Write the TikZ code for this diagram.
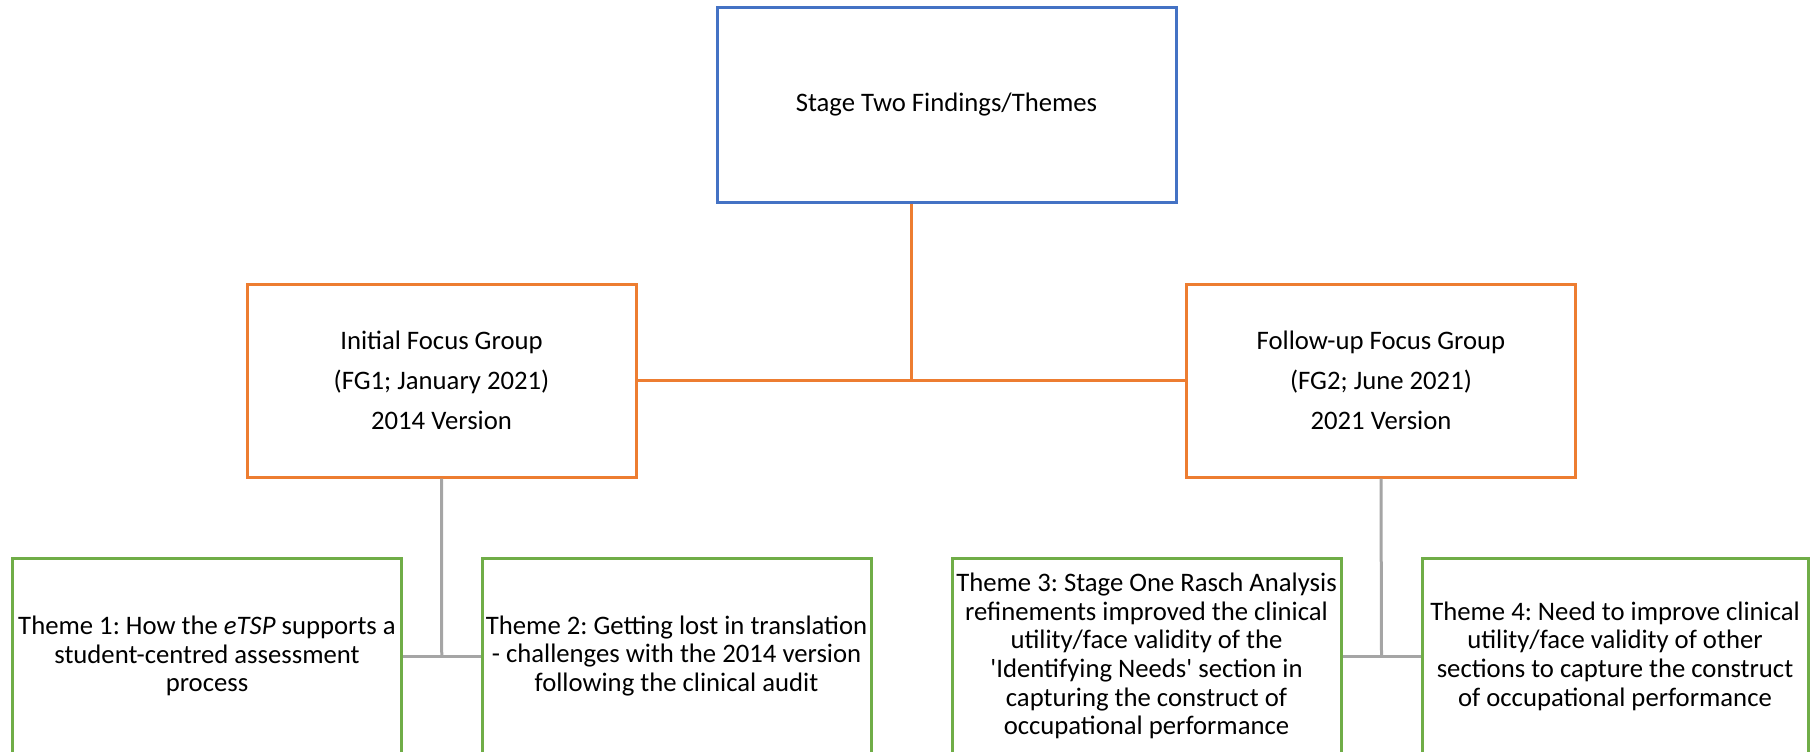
\documentclass[tikz,border=0pt]{standalone}
\usepackage{fontspec}
\setmainfont{Carlito}[Ligatures=TeXOff]
\usetikzlibrary{calc}
\frenchspacing
\definecolor{boxblue}{HTML}{4472C4}
\definecolor{boxorange}{HTML}{ED7D31}
\definecolor{boxgreen}{HTML}{70AD47}
\definecolor{linkgray}{HTML}{A5A5A5}
\tikzset{
  basebox/.style={draw, line width=3pt, fill=white, align=center, inner sep=2pt, anchor=center},
  stagebox/.style={basebox, draw=boxblue, minimum width=459pt, minimum height=194pt,
    font=\fontsize{26.7}{29}\selectfont},
  groupbox/.style={basebox, draw=boxorange, minimum width=389pt, minimum height=193pt,
    font=\fontsize{26.7}{40}\selectfont},
  themebox/.style={basebox, draw=boxgreen, minimum width=389pt, minimum height=196pt,
    font=\fontsize{26.7}{28.7}\selectfont},
  oline/.style={draw=boxorange, line width=3pt},
  gline/.style={draw=linkgray, line width=3pt},
}
\begin{document}
\frenchspacing
\begin{tikzpicture}[x=1pt, y=-1pt]
\useasboundingbox (0,0) rectangle (1810,752);

% top level
\node[stagebox] (top) at (946.5,105) {Stage Two Findings/Themes};

% focus groups
\node[groupbox] (fg1) at (441.5,380.5) {Initial Focus Group\\(FG1; January 2021)\\2014 Version};
\node[groupbox] (fg2) at (1381,380.5) {Follow-up Focus Group\\(FG2; June 2021)\\2021 Version};

% themes
\node[themebox] (t1) at (207,656) {Theme 1: How the \textit{eTSP} supports a\\student-centred assessment\\process};
\node[themebox] (t2) at (676.5,656) {Theme 2: Getting lost in translation\\- challenges with the 2014 version\\following the clinical audit};
\node[themebox, minimum width=389pt] (t3) at (1146.5,656) {Theme 3: Stage One Rasch Analysis\\refinements improved the clinical\\utility/face validity of the\\'Identifying Needs' section in\\capturing the construct of\\occupational performance};
\node[themebox, minimum width=386pt] (t4) at (1615,656) {Theme 4: Need to improve clinical\\utility/face validity of other\\sections to capture the construct\\of occupational performance};

% connectors
\coordinate (jtop) at ($(fg1.east)!0.5!(fg2.west)$);
\draw[oline] (fg1.east) -- (fg2.west);
\draw[oline] (top.south -| jtop) -- (jtop);

\coordinate (jleft) at ($(t1.east)!0.5!(t2.west)$);
\draw[gline] (t1.east) -- (t2.west);
\draw[gline] (fg1.south) -- (jleft);

\coordinate (jright) at ($(t3.east)!0.5!(t4.west)$);
\draw[gline] (t3.east) -- (t4.west);
\draw[gline] (fg2.south) -- (jright);
\end{tikzpicture}
\end{document}
